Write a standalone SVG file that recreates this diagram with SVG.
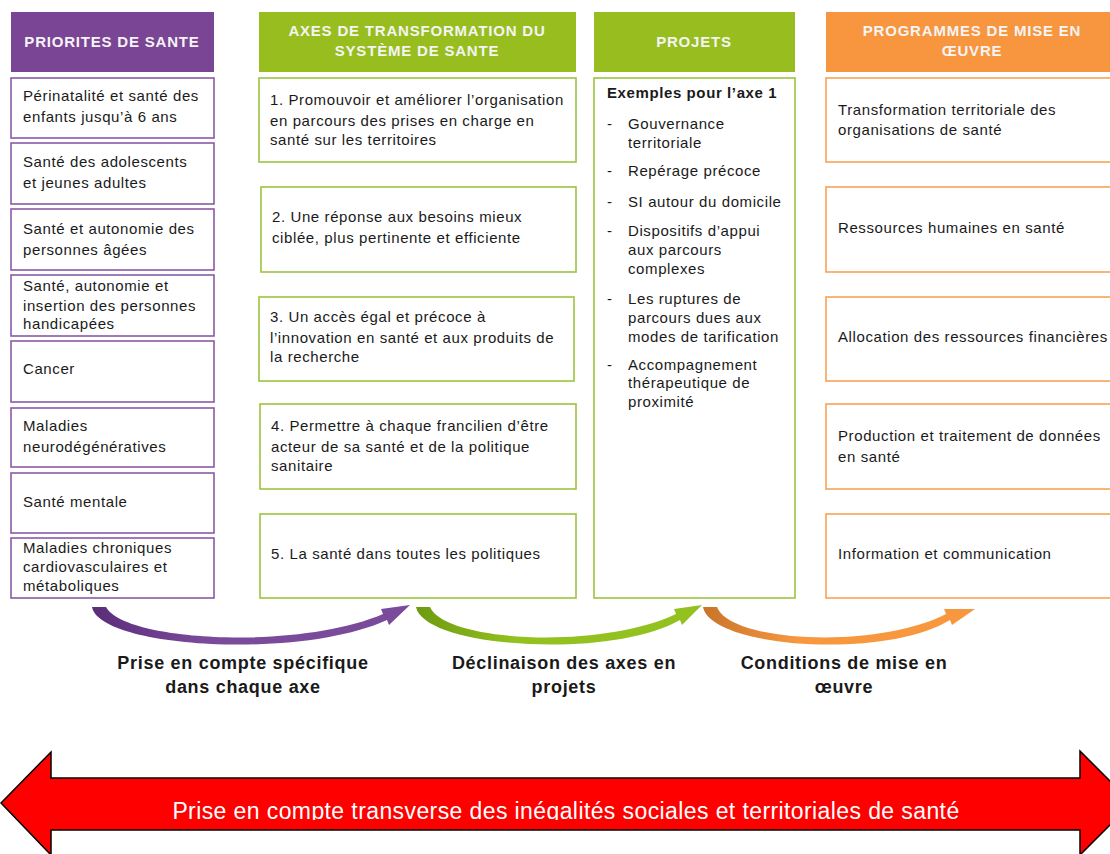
<svg xmlns="http://www.w3.org/2000/svg" width="1110" height="854" viewBox="0 0 1110 854">
<style>
  text{font-family:"Liberation Sans",Arial,sans-serif}
  .hd{font-size:15px;font-weight:bold;fill:#F4F4F4;text-anchor:middle;letter-spacing:0.8px}
  .t{font-size:15px;fill:#1a1a1a;letter-spacing:0.6px}
  .tb{font-size:15px;font-weight:bold;fill:#1a1a1a;letter-spacing:0.6px}
  .pb{fill:#fff;stroke:#8A5BA6;stroke-width:1.6}
  .gb{fill:#fff;stroke:#9DC43E;stroke-width:1.6}
  .ob{fill:#fff;stroke:#F8A254;stroke-width:1.6}
  .lab{font-size:18px;font-weight:bold;fill:#1a1a1a;text-anchor:middle;letter-spacing:0.7px}
</style>
<defs>
  <linearGradient id="gp" x1="0" y1="0" x2="1" y2="0"><stop offset="0" stop-color="#5B2C78"/><stop offset="0.35" stop-color="#7A4B9A"/></linearGradient>
  <linearGradient id="gg" x1="0" y1="0" x2="1" y2="0"><stop offset="0" stop-color="#6E9A10"/><stop offset="0.35" stop-color="#93C11F"/></linearGradient>
  <linearGradient id="go" x1="0" y1="0" x2="1" y2="0"><stop offset="0" stop-color="#C9742A"/><stop offset="0.35" stop-color="#F7983F"/></linearGradient>
  <clipPath id="clipTxt"><rect x="0" y="700" width="1110" height="120"/></clipPath>
</defs>
<rect width="1110" height="854" fill="#fff"/>

<!-- Column 1: priorities -->
<g id="h-priorites"><rect x="11" y="12" width="203" height="60" fill="#7B4596"/><text class="hd" x="112" y="47">PRIORITES DE SANTE</text></g>
<g id="p1"><rect class="pb" x="11" y="78" width="203" height="60"/><text class="t"><tspan x="23" y="101">Périnatalité et santé des</tspan><tspan x="23" y="122">enfants jusqu’à 6 ans</tspan></text></g>
<g id="p2"><rect class="pb" x="11" y="143" width="203" height="61"/><text class="t"><tspan x="23" y="167">Santé des adolescents</tspan><tspan x="23" y="188">et jeunes adultes</tspan></text></g>
<g id="p3"><rect class="pb" x="11" y="209" width="203" height="61"/><text class="t"><tspan x="23" y="234">Santé et autonomie des</tspan><tspan x="23" y="255">personnes âgées</tspan></text></g>
<g id="p4"><rect class="pb" x="11" y="275" width="203" height="61"/><text class="t"><tspan x="23" y="291">Santé, autonomie et</tspan><tspan x="23" y="311">insertion des personnes</tspan><tspan x="23" y="329">handicapées</tspan></text></g>
<g id="p5"><rect class="pb" x="11" y="341" width="203" height="61"/><text class="t" x="23" y="374">Cancer</text></g>
<g id="p6"><rect class="pb" x="11" y="408" width="203" height="59"/><text class="t"><tspan x="23" y="431">Maladies</tspan><tspan x="23" y="452">neurodégénératives</tspan></text></g>
<g id="p7"><rect class="pb" x="11" y="473" width="203" height="60"/><text class="t" x="23" y="507">Santé mentale</text></g>
<g id="p8"><rect class="pb" x="11" y="538" width="203" height="60"/><text class="t"><tspan x="23" y="553">Maladies chroniques</tspan><tspan x="23" y="572">cardiovasculaires et</tspan><tspan x="23" y="591">métaboliques</tspan></text></g>

<!-- Column 2: axes -->
<g id="h-axes"><rect x="259" y="12" width="317" height="60" fill="#97BE1E"/><text class="hd"><tspan x="417" y="36">AXES DE TRANSFORMATION DU</tspan><tspan x="417" y="56">SYSTÈME DE SANTE</tspan></text></g>
<g id="a1"><rect class="gb" x="259" y="78" width="317" height="84"/><text class="t"><tspan x="270" y="105">1. Promouvoir et améliorer l’organisation</tspan><tspan x="270" y="126">en parcours des prises en charge en</tspan><tspan x="270" y="145">santé sur les territoires</tspan></text></g>
<g id="a2"><rect class="gb" x="261" y="187" width="315" height="85"/><text class="t"><tspan x="272" y="222">2. Une réponse aux besoins mieux</tspan><tspan x="272" y="243">ciblée, plus pertinente et efficiente</tspan></text></g>
<g id="a3"><rect class="gb" x="259" y="297" width="315" height="84"/><text class="t"><tspan x="270" y="322">3. Un accès égal et précoce à</tspan><tspan x="270" y="343">l’innovation en santé et aux produits de</tspan><tspan x="270" y="362">la recherche</tspan></text></g>
<g id="a4"><rect class="gb" x="260" y="404" width="316" height="85"/><text class="t"><tspan x="271" y="431">4. Permettre à chaque francilien d’être</tspan><tspan x="271" y="452">acteur de sa santé et de la politique</tspan><tspan x="271" y="471">sanitaire</tspan></text></g>
<g id="a5"><rect class="gb" x="260" y="514" width="316" height="84"/><text class="t" x="271" y="559">5. La santé dans toutes les politiques</text></g>

<!-- Column 3: projets -->
<g id="h-projets"><rect x="594" y="12" width="201" height="60" fill="#97BE1E"/><text class="hd" x="694" y="47">PROJETS</text></g>
<g id="projets"><rect class="gb" x="594" y="78" width="201" height="520"/>
  <text class="tb" x="607" y="98">Exemples pour l’axe 1</text>
  <text class="t"><tspan x="607" y="129">-</tspan><tspan x="607" y="176">-</tspan><tspan x="607" y="207">-</tspan><tspan x="607" y="236">-</tspan><tspan x="607" y="304">-</tspan><tspan x="607" y="370">-</tspan></text>
  <text class="t"><tspan x="628" y="129">Gouvernance</tspan><tspan x="628" y="148">territoriale</tspan><tspan x="628" y="176">Repérage précoce</tspan><tspan x="628" y="207">SI autour du domicile</tspan><tspan x="628" y="236">Dispositifs d’appui</tspan><tspan x="628" y="255">aux parcours</tspan><tspan x="628" y="274">complexes</tspan><tspan x="628" y="304">Les ruptures de</tspan><tspan x="628" y="323">parcours dues aux</tspan><tspan x="628" y="342">modes de tarification</tspan><tspan x="628" y="370">Accompagnement</tspan><tspan x="628" y="388">thérapeutique de</tspan><tspan x="628" y="407">proximité</tspan></text>
</g>

<!-- Column 4: programmes -->
<g id="h-programmes"><rect x="826" y="12" width="292" height="60" fill="#F7963E"/><text class="hd"><tspan x="972" y="36">PROGRAMMES DE MISE EN</tspan><tspan x="972" y="56">ŒUVRE</tspan></text></g>
<g id="g1"><rect class="ob" x="826" y="78" width="292" height="84"/><text class="t"><tspan x="838" y="115">Transformation territoriale des</tspan><tspan x="838" y="135">organisations de santé</tspan></text></g>
<g id="g2"><rect class="ob" x="826" y="187" width="292" height="85"/><text class="t" x="838" y="233">Ressources humaines en santé</text></g>
<g id="g3"><rect class="ob" x="826" y="297" width="292" height="84"/><text class="t" x="838" y="342">Allocation des ressources financières</text></g>
<g id="g4"><rect class="ob" x="826" y="404" width="292" height="85"/><text class="t"><tspan x="838" y="441">Production et traitement de données</tspan><tspan x="838" y="462">en santé</tspan></text></g>
<g id="g5"><rect class="ob" x="826" y="514" width="292" height="84"/><text class="t" x="838" y="559">Information et communication</text></g>

<!-- Connectors -->
<g id="connectors">
  <path d="M 92 607 C 100 648, 300 660, 387 620 L 389 625 L 410 605 L 381 609 L 383 614 C 300 650, 125 642, 106 607 Z" fill="url(#gp)"/>
  <path d="M 416 607 C 424 648, 610 660, 680 620 L 682 625 L 702 605 L 674 609 L 676 614 C 600 650, 445 642, 430 607 Z" fill="url(#gg)"/>
  <path d="M 703 607 C 711 648, 885 660, 950 620 L 952 625 L 975 609 L 944 609 L 946 614 C 875 650, 730 642, 717 607 Z" fill="url(#go)"/>
</g>
<g id="labels">
  <text class="lab"><tspan x="243" y="669">Prise en compte spécifique</tspan><tspan x="243" y="693">dans chaque axe</tspan></text>
  <text class="lab"><tspan x="564" y="669">Déclinaison  des axes en</tspan><tspan x="564" y="693">projets</tspan></text>
  <text class="lab"><tspan x="844" y="669">Conditions de mise en</tspan><tspan x="844" y="693">œuvre</tspan></text>
</g>

<!-- Bottom double arrow -->
<g id="transverse">
  <polygon points="1,803 51,752 51,778 1080,778 1080,751 1132,803 1080,855 1080,830 51,830 51,855" fill="#FF0000" stroke="#000" stroke-width="1.5"/>
  <text x="566" y="819" font-size="23" fill="#fff" text-anchor="middle" letter-spacing="0.4" clip-path="url(#clipTxt)">Prise en compte transverse des inégalités sociales et territoriales de santé</text>
</g>
</svg>
